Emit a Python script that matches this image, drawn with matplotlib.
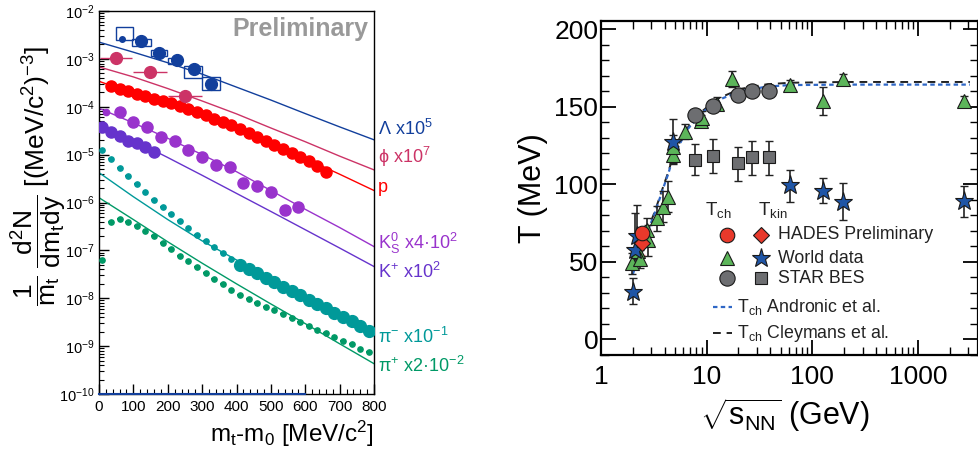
import matplotlib
matplotlib.use("Agg")
import matplotlib.pyplot as plt
from matplotlib.patches import Rectangle
from matplotlib.ticker import MultipleLocator, LogLocator, NullFormatter

plt.rcParams['font.family'] = ['Liberation Sans', 'DejaVu Sans']
plt.rcParams['mathtext.fontset'] = 'custom'
plt.rcParams['mathtext.rm'] = 'Liberation Sans'
plt.rcParams['mathtext.it'] = 'Liberation Sans'
plt.rcParams['mathtext.bf'] = 'Liberation Sans:bold'
plt.rcParams['mathtext.sf'] = 'Liberation Sans'

# ---------------- left panel: m_t spectra ----------------
fit_x = [0, 100, 200, 300, 400, 500, 600, 700, 800]
lam_fit = [2.24e-3, 1.38e-3, 8.3e-4, 4.8e-4, 2.57e-4, 1.38e-4, 7.2e-5, 3.8e-5, 2.04e-5]
phi_fit = [6.8e-4, 4.2e-4, 2.4e-4, 1.32e-4, 7.1e-5, 3.6e-5, 1.86e-5, 9.3e-6, 4.8e-6]
p_fit = [3.4e-4, 1.9e-4, 1.1e-4, 6.2e-5, 3.3e-5, 1.7e-5, 8.3e-6, 3.9e-6, 1.78e-6]
k0_fit = [9.3e-5, 4.6e-5, 2.2e-5, 1.0e-5, 4.4e-6, 1.78e-6, 7.2e-7, 3.0e-7, 1.2e-7]
kp_fit = [4.5e-5, 2.0e-5, 8.7e-6, 3.7e-6, 1.55e-6, 6.5e-7, 2.7e-7, 1.12e-7, 4.6e-8]
pim_fit = [4.2e-6, 1.32e-6, 4.4e-7, 1.58e-7, 6.3e-8, 2.6e-8, 1.1e-8, 4.7e-9, 2.0e-9]
pip_fit = [1.26e-6, 4.4e-7, 1.51e-7, 5.4e-8, 2.0e-8, 7.6e-9, 2.95e-9, 1.12e-9, 4.3e-10]

lam_x = [67, 122, 174, 227, 276, 326]
lam_y = [2.6e-3, 2.37e-3, 1.33e-3, 9.5e-4, 6.2e-4, 3.0e-4]
lam_box_x0 = [49, 96, 151, 201, 247, 299]
lam_box_x1 = [99, 151, 198, 238, 299, 352]
lam_box_y0 = [2.48e-3, 1.86e-3, 1.15e-3, 7.8e-4, 4.0e-4, 2.24e-4]
lam_box_y1 = [4.6e-3, 2.6e-3, 1.53e-3, 1.04e-3, 7.1e-4, 4.2e-4]

phi_x = [49, 148, 250]
phi_y = [1.04e-3, 5.3e-4, 1.68e-4]
phi_xerr = [46, 49, 49]
phi_yerr = [1.6e-4, 6e-5, 2.4e-5]

p_x = [35 + 25 * i for i in range(26)]
p_y = [2.75e-4, 2.34e-4, 2.09e-4, 1.86e-4, 1.70e-4, 1.48e-4, 1.32e-4, 1.17e-4,
       1.05e-4, 8.9e-5, 7.8e-5, 6.6e-5, 5.6e-5, 4.8e-5, 4.1e-5, 3.4e-5, 2.8e-5,
       2.3e-5, 1.95e-5, 1.62e-5, 1.29e-5, 1.10e-5, 8.9e-6, 7.2e-6, 5.8e-6, 4.4e-6]

k0_x = [20, 60, 100, 140, 180, 220, 260, 300, 340, 380, 420, 460, 500, 540, 580]
k0_y = [7.9e-5, 7.7e-5, 4.7e-5, 3.8e-5, 2.3e-5, 1.9e-5, 1.23e-5, 9.1e-6, 6.0e-6,
        5.5e-6, 2.6e-6, 2.2e-6, 1.66e-6, 7.1e-7, 7.9e-7]

kp_x = [10, 35, 60, 85, 110, 135, 160]
kp_y = [3.7e-5, 3.0e-5, 2.45e-5, 1.95e-5, 1.74e-5, 1.41e-5, 1.15e-5]

pim_x = [10 + 25 * i for i in range(16)]
pim_y = [1.26e-5, 8.1e-6, 5.2e-6, 3.6e-6, 2.4e-6, 1.62e-6, 1.15e-6, 7.9e-7,
         5.8e-7, 4.1e-7, 2.9e-7, 2.1e-7, 1.58e-7, 1.17e-7, 8.7e-8, 6.6e-8]
pim_big_x = [410 + 25 * i for i in range(16)]
pim_big_y = [5.0e-8, 4.1e-8, 3.3e-8, 2.7e-8, 2.2e-8, 1.74e-8, 1.41e-8, 1.15e-8,
             9.3e-9, 7.6e-9, 6.2e-9, 5.0e-9, 4.1e-9, 3.3e-9, 2.6e-9, 2.1e-9]

pip_x = [10 + 25 * i for i in range(32)]
pip_y = [6.2e-8, 3.9e-7, 4.5e-7, 3.9e-7, 3.2e-7, 2.6e-7, 1.95e-7, 1.45e-7,
         1.05e-7, 7.8e-8, 5.9e-8, 4.4e-8, 3.3e-8, 2.5e-8, 1.95e-8, 1.51e-8,
         1.15e-8, 9.8e-9, 7.9e-9, 6.6e-9, 5.6e-9, 4.7e-9, 3.9e-9, 3.2e-9,
         2.6e-9, 2.2e-9, 1.86e-9, 1.55e-9, 1.29e-9, 1.1e-9, 8.9e-10, 7.6e-10]

base_x = [0, 600]
base_y = [1e-10, 1e-10]

species_labels = ["Λ x10$^{5}$", "ϕ x10$^{7}$", "p", "K$^{0}_{S}$ x4·10$^{2}$",
                  "K$^{+}$ x10$^{2}$", "π$^{-}$ x10$^{-1}$", "π$^{+}$ x2·10$^{-2}$"]
species_ypix = [129, 157, 188, 243, 272, 337, 366]

c_lam = '#123f9c'
c_phi = '#cc3366'
c_p = '#ff0000'
c_k0 = '#9933cc'
c_kp = '#6633cc'
c_pim = '#009999'
c_pip = '#009966'
species_colors = [c_lam, c_phi, c_p, c_k0, c_kp, c_pim, c_pip]

# ---------------- right panel: freeze-out temperatures ----------------
wch_x = [1.95, 2.24, 2.34, 2.71, 2.81, 3.37, 3.84, 4.34, 4.77, 4.84, 6.24, 8.8, 9.0,
         12.4, 17.3, 61.6, 126, 194, 2700]
wch_y = [49, 57, 52, 70.5, 64, 78, 85.6, 92, 119, 124, 134, 141, 143, 152, 168, 164,
         154, 168, 154]
wch_err = [7, 8, 6, 8, 10, 8, 10, 10, 6, 8, 5, 4, 4, 4, 5, 3, 9, 3, 3]

wkin_x = [2.02, 2.1, 2.18, 4.84, 61.6, 126, 194, 2700]
wkin_y = [30.7, 57.6, 67, 127, 99.5, 96, 88.8, 89.2]
wkin_lo = [8, 8, 15, 13, 11, 8, 11.5, 10]
wkin_hi = [9, 24, 20, 15, 10, 8, 12, 10]

hades_x = [2.42]
hades_ch = [68.4]
hades_kin = [62.3]
hades_err = [8]

star_x = [7.7, 11.5, 19.6, 27, 39]
star_ch = [144.5, 150.5, 157.6, 160, 160]
star_kin = [116, 118.3, 113.5, 117.4, 117.4]
star_kin_lo = [10, 11, 11.5, 11.4, 11.4]
star_kin_hi = [10, 10.7, 10.5, 10.6, 10.6]

curve_x = [2.0, 2.26, 2.71, 3.25, 3.9, 4.34, 4.84, 6.5, 8.66, 12.5, 20.7, 37, 61,
           200, 1000, 3100]
andronic_y = [42, 53, 68, 82, 98, 107, 118, 135, 145, 154, 160, 163, 164, 164.3,
              164.3, 164.3]
cleymans_y = [44, 54, 69, 83, 99, 108, 119, 136, 146, 155, 161.5, 164.5, 165.5,
              166, 166, 166]

W, H = 979, 454
fig = plt.figure(figsize=(W / 100, H / 100), dpi=100)


def fpos(x, y):
    return x / W, 1 - y / H


# ---- left axes
ax1 = fig.add_axes([99 / W, 1 - 394 / H, 275 / W, 383 / H])
ax1.set_yscale('log')
ax1.set_xlim(0, 800)
ax1.set_ylim(1e-10, 1e-2)

for fy, col in zip([lam_fit, phi_fit, p_fit, k0_fit, kp_fit, pim_fit, pip_fit],
                   species_colors):
    ax1.plot(fit_x, fy, color=col, lw=1.0, zorder=2)

ax1.plot(base_x, base_y, color=c_lam, lw=1.5, clip_on=False, zorder=3)

for x0, x1, y0, y1 in zip(lam_box_x0, lam_box_x1, lam_box_y0, lam_box_y1):
    ax1.add_patch(Rectangle((x0, y0), x1 - x0, y1 - y0, fill=False, ec=c_lam,
                            lw=1.0, zorder=3))
ax1.plot(lam_x[:1], lam_y[:1], 'o', ms=4, color=c_lam, zorder=4)
ax1.plot(lam_x[1:], lam_y[1:], 'o', ms=8.5, color=c_lam, zorder=4)

ax1.errorbar(phi_x, phi_y, xerr=phi_xerr, yerr=phi_yerr, fmt='o', ms=8.5,
             color=c_phi, elinewidth=1.0, capsize=0, zorder=4)

ax1.plot(p_x, p_y, 'o', ms=8, color=c_p, zorder=4)

ax1.errorbar(k0_x[:1], k0_y[:1], xerr=8, fmt='o', ms=4.5, color=c_k0,
             elinewidth=1.0, capsize=0, zorder=4)
ax1.errorbar(k0_x[1:], k0_y[1:], xerr=10, fmt='o', ms=8, color=c_k0,
             elinewidth=1.0, capsize=0, zorder=4)

ax1.plot(kp_x, kp_y, 'o', ms=8, color=c_kp, zorder=4)

ax1.errorbar(pim_x, pim_y, xerr=8, fmt='o', ms=3.8, color=c_pim,
             elinewidth=1.6, capsize=0, zorder=4)
ax1.plot(pim_big_x, pim_big_y, 'o', ms=8.5, color=c_pim, zorder=4)

ax1.errorbar(pip_x, pip_y, xerr=8, fmt='o', ms=3.8, color=c_pip,
             elinewidth=1.6, capsize=0, zorder=4)

ax1.set_xticks(range(0, 801, 100))
ax1.xaxis.set_minor_locator(MultipleLocator(20))
ax1.yaxis.set_major_locator(LogLocator(base=10, numticks=20))
ax1.yaxis.set_minor_locator(LogLocator(base=10, subs=range(2, 10), numticks=20))
ax1.yaxis.set_minor_formatter(NullFormatter())
ax1.tick_params(which='major', direction='in', length=7, width=1.0,
                labelsize=10.5, pad=3)
ax1.tick_params(which='minor', direction='in', length=3.5, width=0.8)
ax1.tick_params(axis='x', which='major', labelsize=11, pad=4)
for s in ax1.spines.values():
    s.set_linewidth(1.0)

ax1.text(0.978, 0.984, "Preliminary", transform=ax1.transAxes, ha='right',
         va='top', fontsize=18, fontweight='bold', color='#999999')

for lab, yp, col in zip(species_labels, species_ypix, species_colors):
    fig.text(*fpos(378, yp), lab, color=col, fontsize=13, ha='left', va='center')

fig.text(*fpos(38, 176),
         r"$\dfrac{1}{\mathrm{m_t}}\ \dfrac{\mathrm{d^2N}}{\mathrm{dm_tdy}}$ [(MeV/c$^2$)$^{-3}$]",
         rotation=90, ha='center', va='center', fontsize=19)
fig.text(*fpos(374, 434), "m$_t$-m$_0$ [MeV/c$^2$]", ha='right', va='center',
         fontsize=17.5)

# ---- right axes
ax2 = fig.add_axes([601 / W, 1 - 355 / H, 377 / W, 334.3 / H])
ax2.set_xscale('log')
ax2.set_xlim(1, 3700)
ax2.set_ylim(-10, 205.5)

ax2.plot(curve_x, cleymans_y, color='#222222', lw=1.4, ls=(0, (4, 3)), zorder=2)
ax2.plot(curve_x, andronic_y, color='#2f67c6', lw=1.6, ls=(0, (2, 1.5)), zorder=2)

ax2.errorbar(wch_x, wch_y, yerr=wch_err, fmt='none', ecolor='#222222',
             elinewidth=1.2, capsize=3, zorder=3)
ax2.plot(wch_x, wch_y, '^', ms=9.5, mfc='#5cb55a', mec='#1a1a1a', mew=0.8, zorder=4)

ax2.errorbar(star_x, star_kin, yerr=[star_kin_lo, star_kin_hi], fmt='none',
             ecolor='#222222', elinewidth=1.2, capsize=3, zorder=3)
ax2.plot(star_x, star_kin, 's', ms=8.5, mfc='#6d6e71', mec='#1a1a1a', mew=0.8, zorder=4)
ax2.plot(star_x, star_ch, 'o', ms=11, mfc='#6d6e71', mec='#1a1a1a', mew=0.8, zorder=4)

ax2.errorbar(wkin_x, wkin_y, yerr=[wkin_lo, wkin_hi], fmt='none', ecolor='#222222',
             elinewidth=1.2, capsize=3, zorder=3)
ax2.plot(wkin_x, wkin_y, '*', ms=14, mfc='#1f55a6', mec='#1a1a1a', mew=0.8, zorder=4)

ax2.errorbar(hades_x, hades_kin, yerr=hades_err, fmt='none', ecolor='#f08080',
             elinewidth=1.2, capsize=2, zorder=3)
ax2.plot(hades_x, hades_kin, 'D', ms=8.5, mfc='#e8392b', mec='#1a1a1a', mew=0.8, zorder=5)
ax2.plot(hades_x, hades_ch, 'o', ms=10.5, mfc='#e8392b', mec='#1a1a1a', mew=0.8, zorder=5)

ax2.yaxis.set_major_locator(MultipleLocator(50))
ax2.yaxis.set_minor_locator(MultipleLocator(10))
ax2.xaxis.set_major_locator(LogLocator(base=10, numticks=10))
ax2.xaxis.set_minor_locator(LogLocator(base=10, subs=range(2, 10), numticks=10))
ax2.xaxis.set_minor_formatter(NullFormatter())
ax2.set_xticks([1, 10, 100, 1000])
ax2.set_xticklabels(["1", "10", "100", "1000"])
ax2.tick_params(which='both', direction='in', top=True, right=True)
ax2.tick_params(which='major', length=11, width=1.3, labelsize=19)
ax2.tick_params(which='minor', length=5.5, width=1.0)
ax2.tick_params(axis='y', which='major', pad=2)
ax2.tick_params(axis='x', which='major', pad=7)
for s in ax2.spines.values():
    s.set_linewidth(1.6)

tr = ax2.transAxes
txt_c = '#222222'
ax2.text(0.31, 0.434, "T$_{ch}$", transform=tr, fontsize=13.5, color=txt_c,
         ha='center', va='center')
ax2.text(0.455, 0.434, "T$_{kin}$", transform=tr, fontsize=13.5, color=txt_c,
         ha='center', va='center')
leg_rows = [0.359, 0.289, 0.229]
leg_names = ["HADES Preliminary", "World data", "STAR BES"]
leg_m1 = [('o', '#e8392b', 10.5), ('^', '#5cb55a', 9.5), ('o', '#6d6e71', 11)]
leg_m2 = [('D', '#e8392b', 8.5), ('*', '#1f55a6', 14), ('s', '#6d6e71', 8.5)]
for yr, name, m1, m2 in zip(leg_rows, leg_names, leg_m1, leg_m2):
    ax2.plot([0.335], [yr], m1[0], ms=m1[2], mfc=m1[1], mec='#1a1a1a', mew=0.8,
             transform=tr, clip_on=False)
    ax2.plot([0.424], [yr], m2[0], ms=m2[2], mfc=m2[1], mec='#1a1a1a', mew=0.8,
             transform=tr, clip_on=False)
    ax2.text(0.47, yr, name, transform=tr, fontsize=12.8, color=txt_c, va='center')

ax2.plot([0.297, 0.347], [0.143, 0.143], color='#2f67c6', lw=1.6, ls=(0, (2, 1.5)),
         transform=tr)
ax2.text(0.36, 0.143, "T$_{ch}$ Andronic et al.", transform=tr, fontsize=12.8,
         color=txt_c, va='center')
ax2.plot([0.297, 0.347], [0.065, 0.065], color='#222222', lw=1.4, ls=(0, (4, 3)),
         transform=tr)
ax2.text(0.36, 0.065, "T$_{ch}$ Cleymans et al.", transform=tr, fontsize=12.8,
         color=txt_c, va='center')

fig.text(*fpos(533, 188), "T (MeV)", rotation=90, ha='center', va='center',
         fontsize=22)
fig.text(*fpos(785, 415), r"$\sqrt{\mathrm{s_{NN}}}$ (GeV)", ha='center',
         va='center', fontsize=22)

fig.savefig("out.png", dpi=100)
